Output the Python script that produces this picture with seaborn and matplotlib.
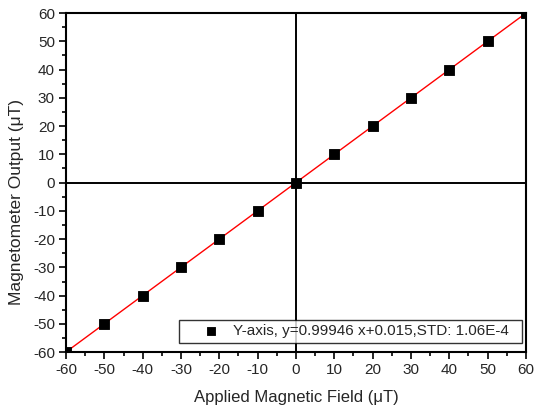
import numpy as np
import pandas as pd
import matplotlib
matplotlib.use('Agg')
import matplotlib.pyplot as plt
from matplotlib.ticker import MultipleLocator
import seaborn as sns

applied = [-60, -50, -40, -30, -20, -10, 0, 10, 20, 30, 40, 50, 60]
output = [-60, -50, -40, -30, -20, -10, 0, 10, 20, 30, 40, 50, 60]
slope = 0.99946
intercept = 0.015
fit_x = [-60, 60]
label = 'Y-axis, y=0.99946 x+0.015,STD: 1.06E-4'

sns.set_style('ticks')
plt.rcParams['font.family'] = ['Liberation Sans', 'DejaVu Sans']
plt.rcParams['axes.unicode_minus'] = False

df = pd.DataFrame({'x': applied, 'y': output})
fit = pd.DataFrame({'x': fit_x, 'y': [slope * v + intercept for v in fit_x]})

fig = plt.figure(figsize=(5.35, 4.09), dpi=100)
ax = fig.add_axes([0.1234, 0.139, 0.8596, 0.829])

ax.axhline(0, color='black', lw=1.4, zorder=1)
ax.axvline(0, color='black', lw=1.4, zorder=1)
sns.lineplot(data=fit, x='x', y='y', color='red', lw=1, ax=ax, zorder=2)
sns.scatterplot(data=df, x='x', y='y', marker='s', s=60, color='black',
                edgecolor='black', ax=ax, zorder=3, label=label)

ax.set_xlim(-60, 60)
ax.set_ylim(-60, 60)
ax.xaxis.set_major_locator(MultipleLocator(10))
ax.yaxis.set_major_locator(MultipleLocator(10))
ax.xaxis.set_minor_locator(MultipleLocator(5))
ax.yaxis.set_minor_locator(MultipleLocator(5))
ax.tick_params(which='major', length=5, width=1.2, labelsize=11, color='black', pad=3)
ax.tick_params(which='minor', length=3, width=1.2, color='black')
for s in ax.spines.values():
    s.set_linewidth(1.5)
    s.set_color('black')

ax.set_xlabel('Applied Magnetic Field (μT)', fontsize=12, labelpad=9)
ax.set_ylabel('Magnetometer Output (μT)', fontsize=12.5)
ax.yaxis.set_label_coords(-0.092, 0.442)

leg = ax.legend(loc='lower right', bbox_to_anchor=(0.991, 0.027), fontsize=11,
                frameon=True, fancybox=False, edgecolor='black',
                handletextpad=-0.45, borderpad=0.3, markerscale=0.8,
                handlelength=3.7, borderaxespad=0)
leg.get_frame().set_linewidth(1)
leg.set_zorder(5)
for t in leg.get_texts():
    t.set_text(label + '  ')

fig.savefig('out.png', dpi=100)
